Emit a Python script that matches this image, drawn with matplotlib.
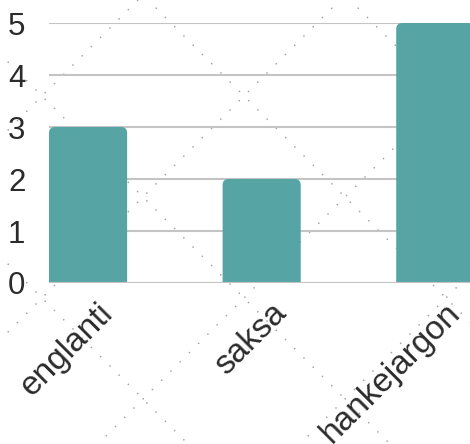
import matplotlib
matplotlib.use('Agg')
import matplotlib.pyplot as plt
import matplotlib.transforms as mtransforms
from matplotlib.patches import FancyBboxPatch
import numpy as np

languages = ['englanti', 'saksa', 'hankejargon']
counts = [3, 2, 5]
yticks = [0, 1, 2, 3, 4, 5]

bar_color = '#57a4a5'
grid_color = '#c4c4c4'
text_color = '#2b2b2b'
dot_color = '#a4a4a4'

plt.rcParams['font.family'] = ['Liberation Sans', 'DejaVu Sans']
plt.rcParams['lines.scale_dashes'] = False

W, H = 470, 444
fig = plt.figure(figsize=(W / 100, H / 100), dpi=100)

# background: dotted diagonal crisscross
bg = fig.add_axes([0, 0, 1, 1], zorder=0)
bg.set_xlim(0, W)
bg.set_ylim(H, 0)
bg.axis('off')
xs = np.array([-100, W + 100])
for c in range(138 - 202, 138 + 202 * 6, 202):
    bg.plot(xs, c - xs, color=dot_color, lw=1.25, linestyle=(0, (0.01, 9.4)),
            dash_capstyle='round')
for c in range(-54 - 202 * 3, -54 + 202 * 4, 202):
    bg.plot(xs, xs - c, color=dot_color, lw=1.25, linestyle=(0, (0.01, 9.4)),
            dash_capstyle='round')

# main axes
left, right = 49 / W, 1.0
bottom, top = (H - 283) / H, (H - 23) / H
ax = fig.add_axes([left, bottom, right - left, top - bottom], zorder=1)
ax.patch.set_alpha(0)

x = np.arange(len(languages))
width = 0.45
xlim = (-0.225, 2.2)
ylim = (0, 5)
ax.set_xlim(*xlim)
ax.set_ylim(*ylim)

# pixel per data unit, for equal rounding in both directions
px_x = (W * (right - left)) / (xlim[1] - xlim[0])
px_y = (H * (top - bottom)) / (ylim[1] - ylim[0])
r = 6 / px_x
bars = ax.bar(x, counts, width=width, color=bar_color, zorder=3)
for b in bars:
    b.set_visible(False)
    patch = FancyBboxPatch((b.get_x(), -1), b.get_width(), b.get_height() + 1,
                           boxstyle=f'round,pad=0,rounding_size={r}',
                           mutation_aspect=px_x / px_y,
                           facecolor=bar_color, edgecolor='none', zorder=3)
    ax.add_patch(patch)

ax.set_yticks(yticks)
ax.yaxis.grid(True, color=grid_color, linewidth=1.5, zorder=1)
ax.set_axisbelow(True)
for s in ax.spines.values():
    s.set_visible(False)
ax.axhline(0, color=grid_color, linewidth=1.5, zorder=4)

ax.set_xticks(x)
ax.set_xticklabels(languages, rotation=45, ha='right', va='top',
                   rotation_mode='anchor', fontsize=24)
ax.tick_params(axis='both', length=0, labelcolor=text_color)
ax.tick_params(axis='y', pad=17, labelsize=22.5)
ax.tick_params(axis='x', pad=4)

shift = mtransforms.ScaledTranslation(9 / 100, -9 / 100, fig.dpi_scale_trans)
for lbl in ax.get_xticklabels():
    lbl.set_transform(lbl.get_transform() + shift)

fig.savefig('out.png', dpi=100)
